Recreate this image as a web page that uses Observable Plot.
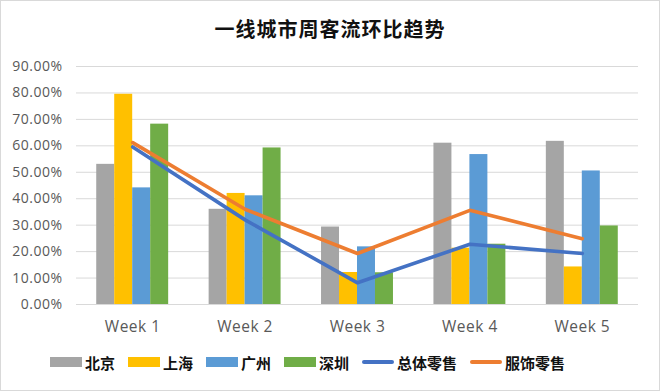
<!DOCTYPE html>
<html><head><meta charset="utf-8">
<script src="https://cdn.jsdelivr.net/npm/d3@7"></script>
<script src="https://cdn.jsdelivr.net/npm/@observablehq/plot@0.6"></script>
<style>
body{margin:0;background:#fff;}
#wrap{position:relative;width:660px;height:391px;overflow:hidden;font-family:"Noto Sans CJK SC",sans-serif;background:#fff;}
#frame{position:absolute;left:0;top:0;width:658px;height:389px;border:1px solid #d9d9d9;pointer-events:none;}
#title{position:absolute;top:19px;left:0;width:100%;text-align:center;font-size:20px;line-height:20px;font-weight:bold;letter-spacing:1px;color:#111;}
#chart{position:absolute;top:40px;left:0;}
#legend{position:absolute;top:352px;left:50px;height:20px;display:flex;align-items:center;font-size:15px;font-weight:bold;color:#111;}
.item{display:flex;align-items:center;margin-right:13px;}
.sw{width:32px;margin-right:3px;}
</style></head>
<body>
<div id="wrap">
  <div id="title">一线城市周客流环比趋势</div>
  <div id="chart"></div>
  <div id="legend"></div>
  <div id="frame"></div>
</div>
<script>
const weeks = ["Week 1", "Week 2", "Week 3", "Week 4", "Week 5"];
const cities = ["北京", "上海", "广州", "深圳"];
const beijing   = [0.530, 0.360, 0.293, 0.610, 0.617];
const shanghai  = [0.795, 0.420, 0.121, 0.213, 0.142];
const guangzhou = [0.441, 0.411, 0.218, 0.567, 0.505];
const shenzhen  = [0.682, 0.592, 0.120, 0.228, 0.297];
const overall   = [0.596, 0.320, 0.082, 0.228, 0.193];
const apparel   = [0.612, 0.360, 0.193, 0.356, 0.249];
const lineNames = ["总体零售", "服饰零售"];
const yTicks = [0, 0.1, 0.2, 0.3, 0.4, 0.5, 0.6, 0.7, 0.8, 0.9];

const cityColors = ["#A5A5A5", "#FFC000", "#5B9BD5", "#70AD47"];
const lineColors = ["#4472C4", "#ED7D31"];

const citySeries = [beijing, shanghai, guangzhou, shenzhen];
const groupWidth = 0.64;
const barW = groupWidth / cities.length;
const bars = [];
citySeries.forEach((vals, j) => vals.forEach((v, i) => {
  const x1 = i - groupWidth / 2 + j * barW;
  bars.push({week: i, city: cities[j], x1, x2: x1 + barW, value: v});
}));
const lineRows = (vals, name) => vals.map((v, i) => ({week: i, value: v, name}));

const chart = Plot.plot({
  width: 660,
  height: 300,
  marginLeft: 76,
  marginRight: 22,
  marginTop: 26,
  marginBottom: 36,
  style: {fontFamily: "'Open Sans', sans-serif", background: "transparent", letterSpacing: "0.5px"},
  x: {domain: [-0.5, 4.5]},
  y: {domain: [0, 0.9]},
  color: {domain: cities, range: cityColors},
  marks: [
    Plot.ruleY(yTicks, {stroke: "#d9d9d9", strokeWidth: 1}),
    Plot.rectY(bars, {x1: "x1", x2: "x2", y: "value", fill: "city"}),
    Plot.line(lineRows(overall, lineNames[0]), {x: "week", y: "value", stroke: lineColors[0], strokeWidth: 3.6, strokeLinejoin: "round"}),
    Plot.line(lineRows(apparel, lineNames[1]), {x: "week", y: "value", stroke: lineColors[1], strokeWidth: 3.6, strokeLinejoin: "round"}),
    Plot.axisY(yTicks, {tickFormat: d3.format(".2%"), tickSize: 0, tickPadding: 14, label: null, fill: "#595959", fontSize: 14}),
    Plot.axisX(weeks.map((w, i) => i), {tickFormat: i => weeks[i], tickSize: 0, tickPadding: 16, label: null, fill: "#595959", fontSize: 15.5})
  ]
});
document.getElementById("chart").appendChild(chart);

const legend = document.getElementById("legend");
const items = cities.map((c, j) => ({name: c, color: cityColors[j], h: 10}))
  .concat(lineNames.map((n, k) => ({name: n, color: lineColors[k], h: 4})));
items.forEach(it => {
  const d = document.createElement("div");
  d.className = "item";
  const s = document.createElement("div");
  s.className = "sw";
  s.style.height = it.h + "px";
  s.style.background = it.color;
  if (it.h < 10) s.style.borderRadius = "2px";
  const t = document.createElement("span");
  t.textContent = it.name;
  d.appendChild(s); d.appendChild(t);
  legend.appendChild(d);
});
</script>
</body></html>
